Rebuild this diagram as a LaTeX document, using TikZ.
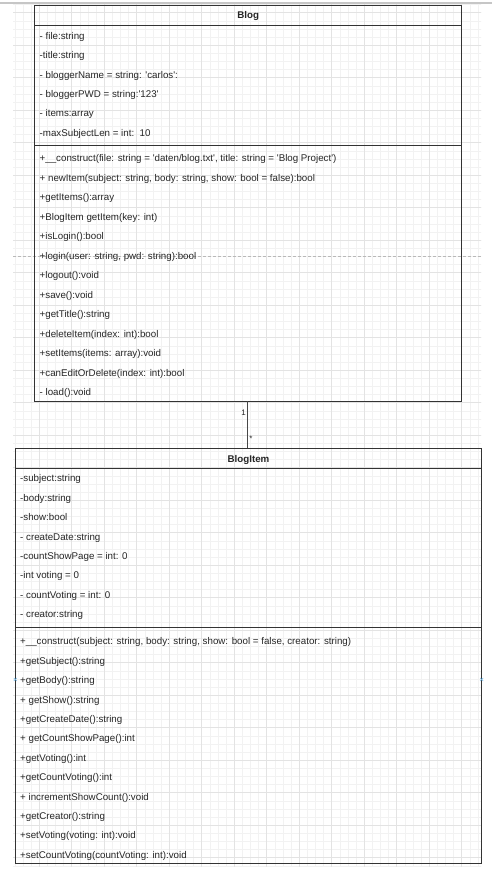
\documentclass[tikz,border=0pt]{standalone}
\usepackage{fontspec}
\setmainfont{Liberation Sans}
\newcommand{\q}{\textquotesingle}
\definecolor{minorg}{HTML}{F2F2F2}
\definecolor{majorg}{HTML}{E3E3E3}
\definecolor{border}{HTML}{333333}
\definecolor{txt}{HTML}{262626}
\definecolor{handle}{HTML}{6FB8E8}
\tikzset{
  umlbox/.style={draw=border, line width=1pt, rectangle, inner sep=0pt, outer sep=0pt},
  sepline/.style={draw=border, line width=1pt},
  row/.style={anchor=mid west, inner sep=0pt, text=txt, font=\fontsize{9.75}{12}\selectfont},
  head/.style={anchor=mid, inner sep=0pt, text=txt, font=\fontsize{9.75}{12}\selectfont\bfseries},
  conn/.style={draw=border!90, line width=1.1pt},
  mult/.style={inner sep=0pt, text=txt, font=\fontsize{8}{10}\selectfont},
  minorline/.style={draw=minorg, line width=0.6pt},
  majorline/.style={draw=majorg, line width=0.7pt},
  guide/.style={draw=gray!55, line width=0.6pt, dash pattern=on 3pt off 2pt},
}
\begin{document}
\begin{tikzpicture}[x=1pt,y=-1pt]
\useasboundingbox[fill=white] (0,0) rectangle (492,876);
% top gray bar
\draw[draw=gray!45, line width=1.6pt] (0,2.7) -- (492,2.7);
% grid
\begin{scope}
\clip (13,4.5) rectangle (481,866);
\foreach \i in {0,...,58} {
  \pgfmathsetmacro\xx{6.7+8.125*\i}
  \draw[minorline] (\xx,0) -- (\xx,870);
}
\foreach \j in {-2,...,106} {
  \pgfmathsetmacro\yy{12.7+8.125*\j}
  \draw[minorline] (0,\yy) -- (492,\yy);
}
\foreach \i in {0,...,15} {
  \pgfmathsetmacro\xx{6.7+32.5*\i}
  \draw[majorline] (\xx,0) -- (\xx,870);
}
\foreach \j in {-1,...,27} {
  \pgfmathsetmacro\yy{12.7+32.5*\j}
  \draw[majorline] (0,\yy) -- (492,\yy);
}
\end{scope}
% guide line
\draw[guide] (13,256.7) -- (481,256.7);

% ---------- Blog ----------
\node[umlbox, minimum width=427pt, minimum height=395.7pt] (blog) at (248.2,203.15) {};
\draw[sepline] (blog.west |- 0,25) -- (blog.east |- 0,25);
\draw[sepline] (blog.west |- 0,145) -- (blog.east |- 0,145);
\node[head] (blogtitle) at (248.2,16) {Blog};
\foreach \t [count=\k from 0] in {
  {- file:string},
  {-title:string},
  {- bloggerName = string: \q carlos\q:},
  {- bloggerPWD = string:\q 123\q},
  {- items:array},
  {-maxSubjectLen = int:\ \ 10}} {
  \node[row] (ba\k) at (39.5,36.7+19.36*\k) {\t};
}
\foreach \t [count=\k from 0] in {
  {+\_\_construct(file: string = \q daten/blog.txt\q, title: string = \q Blog Project\q)},
  {+ newItem(subject: string, body: string, show: bool = false):bool},
  {+getItems():array},
  {+BlogItem getItem(key: int)},
  {+isLogin():bool},
  {+login(user: string, pwd: string):bool},
  {+logout():void},
  {+save():void},
  {+getTitle():string},
  {+deleteItem(index: int):bool},
  {+setItems(items: array):void},
  {+canEditOrDelete(index: int):bool},
  {- load():void}} {
  \node[row] (bm\k) at (39.5,159.3+19.5*\k) {\t};
}

% ---------- BlogItem ----------
\node[umlbox, minimum width=466.4pt, minimum height=415pt] (blogitem) at (248.5,655.8) {};
\draw[sepline] (blogitem.west |- 0,468.3) -- (blogitem.east |- 0,468.3);
\draw[sepline] (blogitem.west |- 0,627.3) -- (blogitem.east |- 0,627.3);
\node[head] (bititle) at (248.5,459.5) {BlogItem};
\foreach \t [count=\k from 0] in {
  {-subject:string},
  {-body:string},
  {-show:bool},
  {- createDate:string},
  {-countShowPage = int: 0},
  {-int voting = 0},
  {- countVoting = int: 0},
  {- creator:string}} {
  \node[row] (ia\k) at (20,479.3+19.4*\k) {\t};
}
\foreach \t [count=\k from 0] in {
  {+\_\_construct(subject: string, body: string, show: bool = false, creator: string)},
  {+getSubject():string},
  {+getBody():string},
  {+ getShow():string},
  {+getCreateDate():string},
  {+ getCountShowPage():int},
  {+getVoting():int},
  {+getCountVoting():int},
  {+ incrementShowCount():void},
  {+getCreator():string},
  {+setVoting(voting: int):void},
  {+setCountVoting(countVoting: int):void}} {
  \node[row] (im\k) at (20,642.3+19.4*\k) {\t};
}

% selection handles
\foreach \hx in {15.3,481.7} {
  \draw[handle, line width=0.6pt] (\hx-1.5,679.5-1.5) -- (\hx+1.5,679.5+1.5);
  \draw[handle, line width=0.6pt] (\hx-1.5,679.5+1.5) -- (\hx+1.5,679.5-1.5);
}

% ---------- connector ----------
\coordinate (cx) at (247.3,0);
\draw[conn] (blog.south -| cx) -- (blogitem.north -| cx);
\node[mult] (m1) at (243.7,412.7) {1};
\node[mult] (m2) at (251,439) {*};
\end{tikzpicture}
\end{document}
